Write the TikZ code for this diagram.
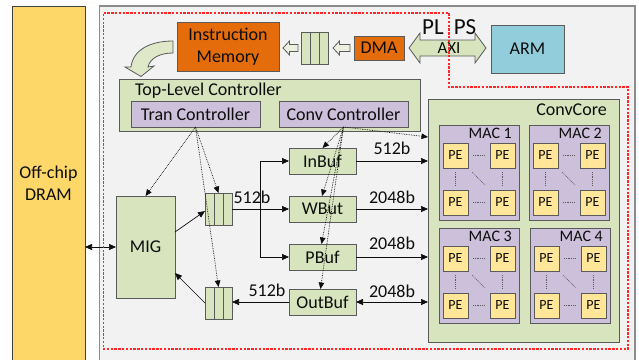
\documentclass[tikz,border=0pt]{standalone}
\usepackage{fontspec}
\setmainfont{Carlito}
\usetikzlibrary{arrows.meta,calc}
\definecolor{grn}{HTML}{D7E4BD}
\definecolor{pur}{HTML}{CCC0DA}
\definecolor{pey}{HTML}{FFE699}
\definecolor{org}{HTML}{E46C0A}
\definecolor{armc}{HTML}{92CDDC}
\definecolor{dramc}{HTML}{FDD868}
\definecolor{bgc}{HTML}{F2F2F2}
\definecolor{lgrn}{HTML}{EBF1DE}
\definecolor{bord}{HTML}{5A5A5A}
\definecolor{ink}{HTML}{0D0D0D}
\begin{document}
\begin{tikzpicture}[x=1pt,y=-1pt,
  font=\fontsize{18}{22}\selectfont,
  box/.style={draw=bord, line width=0.8pt, inner sep=0pt, outer sep=0pt, rectangle, text=ink},
  gbox/.style={box, fill=grn},
  pbox/.style={box, fill=pur},
  pebox/.style={box, fill=pey, minimum width=25pt, minimum height=25pt, font=\fontsize{14}{16}\selectfont},
  macbox/.style={box, fill=pur, minimum width=80pt, minimum height=95pt},
  fifobox/.style={box, fill=grn, minimum width=27pt, minimum height=32pt},
  lbl/.style={inner sep=0pt, text=ink},
  arr/.style={draw=ink, line width=0.7pt, -{Triangle[length=7pt,width=6pt]}},
  darr/.style={draw=ink, line width=0.7pt, {Triangle[length=7pt,width=6pt]}-{Triangle[length=7pt,width=6pt]}},
  dotarr/.style={draw=ink, line width=0.7pt, densely dotted, -{Triangle[length=6.5pt,width=5.5pt]}},
  pedash/.style={draw=bord, line width=0.6pt, dash pattern=on 1pt off 0.8pt},
  hollow/.style={draw=bord, line width=0.8pt, fill=lgrn},
  reddash/.style={draw=red!85, line width=1.4pt, dash pattern=on 2.4pt off 1.4pt}
]
\useasboundingbox (0,0) rectangle (639,359);
% backgrounds
\fill[white] (0,0) rectangle (639,359);
\draw[fill=bgc, draw=black!45, line width=1.2pt] (99.5,6) rectangle (635,370);
\node[box, fill=dramc, draw=black!75, line width=1pt, minimum width=73pt, minimum height=354pt, align=center] (dram) at (48.5,183) {Off-chip\\DRAM};

% top row
\node[box, fill=org, minimum width=102pt, minimum height=49pt, align=center] (im) at (228,46.5) {Instruction\\Memory};
\node[fifobox] (fifo1) at (315,48) {};
\node[box, fill=org, minimum width=50pt, minimum height=24pt] (dma) at (379,48) {DMA};
\node[box, fill=armc, minimum width=73pt, minimum height=48pt] (arm) at (527.5,49) {ARM};

% small hollow arrows
\draw[hollow] (283,48) -- (289.5,41) -- (289.5,44.5) -- (298,44.5) -- (298,51.5) -- (289.5,51.5) -- (289.5,55) -- cycle;
\draw[hollow] (333,48) -- (339.5,41) -- (339.5,44.5) -- (350,44.5) -- (350,51.5) -- (339.5,51.5) -- (339.5,55) -- cycle;
% AXI double arrow
\draw[hollow, fill=grn] (409,48) -- (420,33) -- (420,40) -- (475,40) -- (475,33) -- (486,48) -- (475,63) -- (475,56) -- (420,56) -- (420,63) -- cycle;
\node[lbl, font=\fontsize{17}{19}\selectfont] (axi) at (449,48) {AXI};
\node[lbl, font=\fontsize{23}{25}\selectfont] (pl) at (433,27) {PL};
\node[lbl, font=\fontsize{23}{25}\selectfont] (ps) at (465,27) {PS};
% curved hollow arrow
\draw[hollow, fill=grn!80!white] (173,41) .. controls (150,41) and (133,50) .. (131,67) -- (125,67) -- (141,76.5) -- (154,66) -- (148,67) .. controls (150,58) and (160,53) .. (173,53) -- cycle;

% controllers
\node[gbox, minimum width=301pt, minimum height=52pt] (tlc) at (269.5,105) {};
\node[lbl, anchor=west] (tlctext) at (135,91) {Top-Level Controller};
\node[pbox, minimum width=129pt, minimum height=26pt] (tran) at (195.5,114) {Tran Controller};
\node[pbox, minimum width=129pt, minimum height=26pt] (conv) at (343.5,114) {Conv Controller};

% ConvCore
\node[gbox, minimum width=191pt, minimum height=243pt] (core) at (523.5,220.5) {};
\node[lbl, anchor=east] (coretext) at (607,110) {ConvCore};
\foreach \m/\mx/\my/\lab in {1/439/125/MAC 1, 2/529/125/MAC 2, 3/439/228/MAC 3, 4/530/228/MAC 4} {
  \node[macbox] (mac\m) at (\mx+40,\my+47.5) {};
  \node[lbl, anchor=east, font=\fontsize{16}{18}\selectfont] (ml\m) at (\mx+73,\my+8.5) {\lab};
  \node[pebox] (p\m a) at (\mx+16.5,\my+30.5) {PE};
  \node[pebox] (p\m b) at (\mx+63.5,\my+30.5) {PE};
  \node[pebox] (p\m c) at (\mx+16.5,\my+77.5) {PE};
  \node[pebox] (p\m d) at (\mx+63.5,\my+77.5) {PE};
  \draw[pedash, shorten <=5pt, shorten >=6pt] (p\m a.east) -- (p\m b.west);
  \draw[pedash, shorten <=5pt, shorten >=6pt] (p\m c.east) -- (p\m d.west);
  \draw[pedash, shorten <=4pt, shorten >=5pt] (p\m a.south) -- (p\m c.north);
  \draw[pedash, shorten <=4pt, shorten >=5pt] (p\m b.south) -- (p\m d.north);
  \draw[pedash, shorten <=6pt, shorten >=7pt] (p\m a.south east) -- (p\m d.north west);
}

% MIG, fifos, buffers
\node[gbox, minimum width=59pt, minimum height=102pt] (mig) at (145.5,247) {MIG};
\node[fifobox] (fifo2) at (218.5,209) {};
\node[fifobox] (fifo3) at (218.5,303) {};
\foreach \f in {fifo1,fifo2,fifo3} {
  \draw[draw=bord, line width=0.8pt] ($(\f.north west)!1/3!(\f.north east)$) -- ($(\f.south west)!1/3!(\f.south east)$);
  \draw[draw=bord, line width=0.8pt] ($(\f.north west)!2/3!(\f.north east)$) -- ($(\f.south west)!2/3!(\f.south east)$);
}
\node[gbox, minimum width=67pt, minimum height=26pt] (inbuf) at (322.5,161) {InBuf};
\node[gbox, minimum width=67pt, minimum height=26pt] (wbuf) at (322.5,209) {WBut};
\node[gbox, minimum width=67pt, minimum height=26pt] (pbuf) at (322.5,257) {PBuf};
\node[gbox, minimum width=67pt, minimum height=26pt] (outbuf) at (322.5,302) {OutBuf};

% solid connectors
\draw[darr] (mig.west -| dram.east) -- (mig.west);
\draw[arr] ([yshift=15pt]mig.east) -- ([yshift=-2pt]fifo2.west);
\draw[arr] ([yshift=0pt]fifo3.west) -- ([yshift=-26pt]mig.east);
\draw[arr] (fifo2.east) -- (wbuf.west);
\coordinate (br) at (260,209);
\draw[arr] (br) |- (inbuf.west);
\draw[arr] (br) |- (pbuf.west);
\draw[arr] (outbuf.west) -- (outbuf.west -| fifo3.east);
\draw[arr] (inbuf.east) -- (inbuf.east -| core.west);
\draw[arr] (wbuf.east) -- (wbuf.east -| core.west);
\draw[arr] (pbuf.east) -- (pbuf.east -| core.west);
\draw[darr] (outbuf.east) -- (outbuf.east -| core.west);

% bit-width labels
\node[lbl] (w1) at (252,197) {512b};
\node[lbl] (w2) at (267,290) {512b};
\node[lbl] (w3) at (392,148) {512b};
\node[lbl] (w4) at (392,197) {2048b};
\node[lbl] (w5) at (392,243) {2048b};
\node[lbl] (w6) at (392,291) {2048b};

% dotted control connectors
\draw[dotarr] (tran.south) -- (mig.north);
\draw[dotarr] (tran.south) -- (fifo2.north);
\draw[dotarr] (tran.south) -- (fifo3.north);
\draw[dotarr] (conv.south) -- (inbuf.north);
\draw[dotarr] (conv.south) -- ([xshift=-0.5pt]wbuf.north);
\draw[dotarr] (conv.south) -- ([xshift=-1pt]pbuf.north);
\draw[dotarr] (conv.south) -- ([xshift=-2pt]outbuf.north);
\draw[dotarr] (conv.south) -- (core.west |- 0,137);

% PL/PS boundary
\draw[reddash] (103.5,13) -- (449,13) -- (449,87) -- (628,87) -- (628,349) -- (103.5,349) -- cycle;
\end{tikzpicture}
\end{document}
